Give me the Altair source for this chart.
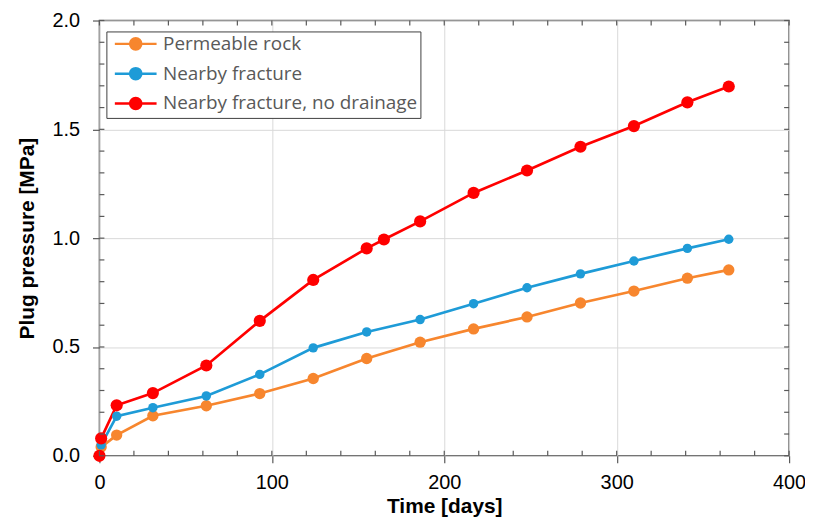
import altair as alt
import pandas as pd

# ---- data ----
series_names = ["Permeable rock", "Nearby fracture", "Nearby fracture, no drainage"]

days_perm = [0, 1, 10, 31, 62, 93, 124, 155, 186, 217, 248, 279, 310, 341, 365]
perm_rock = [0.0, 0.04, 0.095, 0.184, 0.23, 0.286, 0.355, 0.447, 0.522, 0.583, 0.638, 0.702, 0.757, 0.816, 0.854]

days_frac = [0, 1, 10, 31, 62, 93, 124, 155, 186, 217, 248, 279, 310, 341, 365]
nearby_fracture = [0.0, 0.05, 0.182, 0.221, 0.275, 0.374, 0.496, 0.569, 0.626, 0.699, 0.772, 0.836, 0.895, 0.953, 0.995]

days_nodrain = [0, 1, 10, 31, 62, 93, 124, 155, 165, 186, 217, 248, 279, 310, 341, 365]
no_drainage = [0.0, 0.08, 0.232, 0.288, 0.415, 0.62, 0.808, 0.953, 0.994, 1.077, 1.208, 1.311, 1.42, 1.515, 1.624, 1.697]

x_major = [0, 100, 200, 300, 400]
x_minor = list(range(0, 401, 20))
y_major = [0.0, 0.5, 1.0, 1.5, 2.0]
y_minor = [round(i * 0.1, 1) for i in range(21)]

# ---- styles ----
colors = ["#F7862E", "#1E9BD7", "#FF0000"]
marker_sizes = [130, 90, 150]
W, H = 694, 438
TICK = 5
TICK_COLOR = "#595959"

rows = []
for name, days, vals in [
    (series_names[0], days_perm, perm_rock),
    (series_names[1], days_frac, nearby_fracture),
    (series_names[2], days_nodrain, no_drainage),
]:
    for d, v in zip(days, vals):
        rows.append({"series": name, "day": d, "pressure": v})
df = pd.DataFrame(rows)
df_xminor = pd.DataFrame({"day": x_minor})
df_yminor = pd.DataFrame({"pressure": y_minor})

FONT = "Liberation Sans"
xscale = alt.Scale(domain=[0, 400], nice=False)
yscale = alt.Scale(domain=[0, 2], nice=False)

# legend glyph: a short line with a dot in the middle (unit = 7 px)
sym_path = "M-0.57,0L5.43,0M1.63,0A0.8,0.8,0,1,1,3.23,0A0.8,0.8,0,1,1,1.63,0Z"
legend = alt.Legend(
    title=None,
    orient="none",
    legendX=7,
    legendY=11,
    symbolType=sym_path,
    symbolSize=196,
    symbolStrokeWidth=2.5,
    symbolOpacity=1,
    labelOffset=35,
    labelFont="Open Sans",
    labelFontSize=19,
    labelColor="#595959",
    labelLimit=0,
    rowPadding=7,
    padding=3,
    strokeColor="#404040",
    fillColor="white",
    cornerRadius=0,
)

stroke_enc = alt.Stroke("series:N", scale=alt.Scale(domain=series_names, range=colors), legend=legend)
fill_enc = alt.Fill("series:N", scale=alt.Scale(domain=series_names, range=colors), legend=legend)

x_axis = alt.Axis(
    values=x_major, grid=True, gridColor="#D9D9D9", gridWidth=1, domain=False,
    tickSize=7, tickColor=TICK_COLOR, tickWidth=1.2, labelFlush=False,
    labelFont=FONT, labelFontSize=20, labelColor="black", labelPadding=10,
    title="Time [days]", titleFont=FONT, titleFontSize=21, titleFontWeight="bold",
    titleColor="black", titlePadding=3,
)
y_axis = alt.Axis(
    values=y_major, format=".1f", grid=True, gridColor="#D9D9D9", gridWidth=1, domain=False,
    tickSize=7, tickColor=TICK_COLOR, tickWidth=1.2, labelFlush=False,
    labelFont=FONT, labelFontSize=20, labelColor="black", labelPadding=13,
    title="Plug pressure [MPa]", titleFont=FONT, titleFontSize=21, titleFontWeight="bold",
    titleColor="black", titlePadding=15,
)

X = alt.X("day:Q", scale=xscale, axis=x_axis)
Y = alt.Y("pressure:Q", scale=yscale, axis=y_axis)

lines = alt.Chart(df).mark_line(strokeWidth=2.7).encode(
    x=X, y=Y, stroke=stroke_enc, detail="series:N"
)

point_layers = [
    alt.Chart(df)
    .transform_filter(alt.datum.series == name)
    .mark_point(filled=True, opacity=1, strokeWidth=0, size=sz)
    .encode(x=X, y=Y, fill=fill_enc, stroke=stroke_enc)
    for name, sz in zip(series_names, marker_sizes)
]

# inward minor ticks on all four sides of the frame
tick_bottom = alt.Chart(df_xminor).mark_rule(color=TICK_COLOR, strokeWidth=1.2).encode(
    x=X, y=alt.value(H - TICK), y2=alt.value(H)
)
tick_top = alt.Chart(df_xminor).mark_rule(color=TICK_COLOR, strokeWidth=1.2).encode(
    x=X, y=alt.value(0), y2=alt.value(TICK)
)
tick_left = alt.Chart(df_yminor).mark_rule(color=TICK_COLOR, strokeWidth=1.2).encode(
    y=Y, x=alt.value(0), x2=alt.value(TICK)
)
tick_right = alt.Chart(df_yminor).mark_rule(color=TICK_COLOR, strokeWidth=1.2).encode(
    y=Y, x=alt.value(W - TICK), x2=alt.value(W)
)

chart = (
    alt.layer(lines, *point_layers, tick_bottom, tick_top, tick_left, tick_right)
    .properties(
        width=W,
        height=H,
        autosize=alt.AutoSizeParams(type="none"),
        padding={"left": 92, "top": 11, "right": 16, "bottom": 61},
        background="white",
    )
    .configure_view(stroke="#595959", strokeWidth=1.5)
)

chart.save("out.html", embed_options={"renderer": "svg", "actions": False})
